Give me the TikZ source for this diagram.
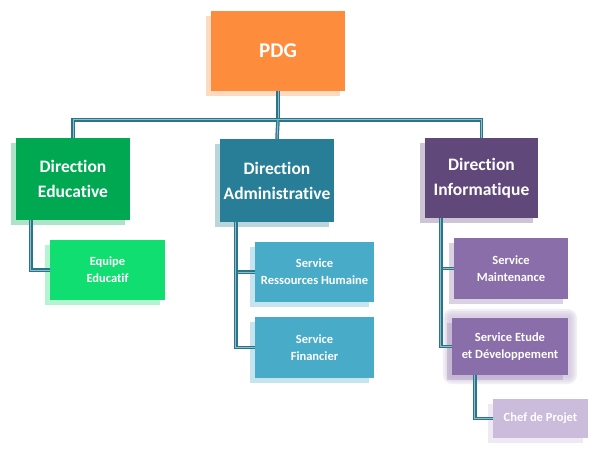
\documentclass[tikz,border=0pt]{standalone}
\usepackage{fontspec}
\setmainfont{Carlito}[Ligatures={NoCommon,NoContextual},Contextuals=NoAlternate]
\usepackage{xcolor}
\usetikzlibrary{shadows}
\definecolor{pdgorange}{RGB}{253,140,60}
\definecolor{edugreen}{RGB}{0,168,82}
\definecolor{edulight}{RGB}{16,222,112}
\definecolor{admteal}{RGB}{40,126,150}
\definecolor{admlight}{RGB}{72,172,200}
\definecolor{infpurple}{RGB}{96,72,122}
\definecolor{infmid}{RGB}{138,110,170}
\definecolor{inflight}{RGB}{202,188,218}
\definecolor{linkteal}{RGB}{40,118,140}

\begin{document}
\begin{tikzpicture}[x=1pt,y=-1pt,
 box/.style={rectangle,align=center,inner sep=2pt,text=white,
  font=\bfseries,drop shadow={shadow xshift=-5pt,shadow yshift=-5pt,
  opacity=0.45,fill=#1!70}},
 dirfont/.style={font=\bfseries\fontsize{17.5}{25}\selectfont},
 srvfont/.style={font=\bfseries\fontsize{12.5}{17}\selectfont},
 link/.style={draw=linkteal,line width=1.3pt,double=linkteal!50,
  double distance=1pt}]
\useasboundingbox[fill=white] (0,0) rectangle (599,462);

% Top of the chart.
\node[box=pdgorange,fill=pdgorange,minimum width=134pt,minimum height=80pt,
 font=\bfseries\fontsize{21}{24}\selectfont] (pdg) at (278,51) {PDG};

% The three directions.
\node[box=edugreen,fill=edugreen,minimum width=114pt,minimum height=82pt,
 dirfont] (dired) at (73,179) {Direction\\Educative};
\node[box=admteal,fill=admteal,minimum width=114pt,minimum height=83pt,
 dirfont] (diradm) at (277,180.5) {Direction\\Administrative};
\node[box=infpurple,fill=infpurple,minimum width=113pt,minimum height=80pt,
 dirfont] (dirinf) at (481.5,178) {Direction\\Informatique};

% Services under each direction.
\node[box=edulight,fill=edulight,minimum width=115pt,minimum height=60pt,
 srvfont] (equipe) at (107.5,270) {Equipe\\Educatif};
\node[box=admlight,fill=admlight,minimum width=119pt,minimum height=60pt,
 srvfont] (srh) at (314.5,272) {Service\\Ressources Humaine};
\node[box=admlight,fill=admlight,minimum width=119pt,minimum height=61pt,
 srvfont] (sfin) at (314.5,347.5) {Service\\Financier};
\node[box=infmid,fill=infmid,minimum width=114pt,minimum height=61pt,
 srvfont] (smaint) at (511,268.5) {Service\\Maintenance};
% Soft glow round the selected service.
\foreach \g in {9,7,5,3}
  \fill[infmid!45,opacity=0.25,rounded corners=\g pt]
    (452-\g,318-\g) rectangle (568+\g,375+\g);
\node[box=infmid,fill=infmid,minimum width=116pt,minimum height=57pt,
 srvfont] (setude) at (510,346.5) {Service Etude\\et Développement};
\node[box=inflight,fill=inflight,minimum width=95pt,minimum height=39pt,
 srvfont] (chef) at (540.5,418.5) {Chef de Projet};

% Connectors.
\coordinate (bus) at (278,120);
\draw[link] (pdg.south) -- (bus);
\draw[link] (bus) -| (dired.north);
\draw[link] (bus) -| (dirinf.north);
\draw[link] (bus) -- (diradm.north);
\draw[link] ([xshift=15pt]dired.south west) |- (equipe.west);
\draw[link] ([xshift=16pt]diradm.south west) |- (srh.west);
\draw[link] ([xshift=16pt]diradm.south west) |- (sfin.west);
\draw[link] ([xshift=16pt]dirinf.south west) |- (smaint.west);
\draw[link] ([xshift=16pt]dirinf.south west) |- (setude.west);
\draw[link] ([xshift=23pt]setude.south west) |- (chef.west);
\end{tikzpicture}
\end{document}
